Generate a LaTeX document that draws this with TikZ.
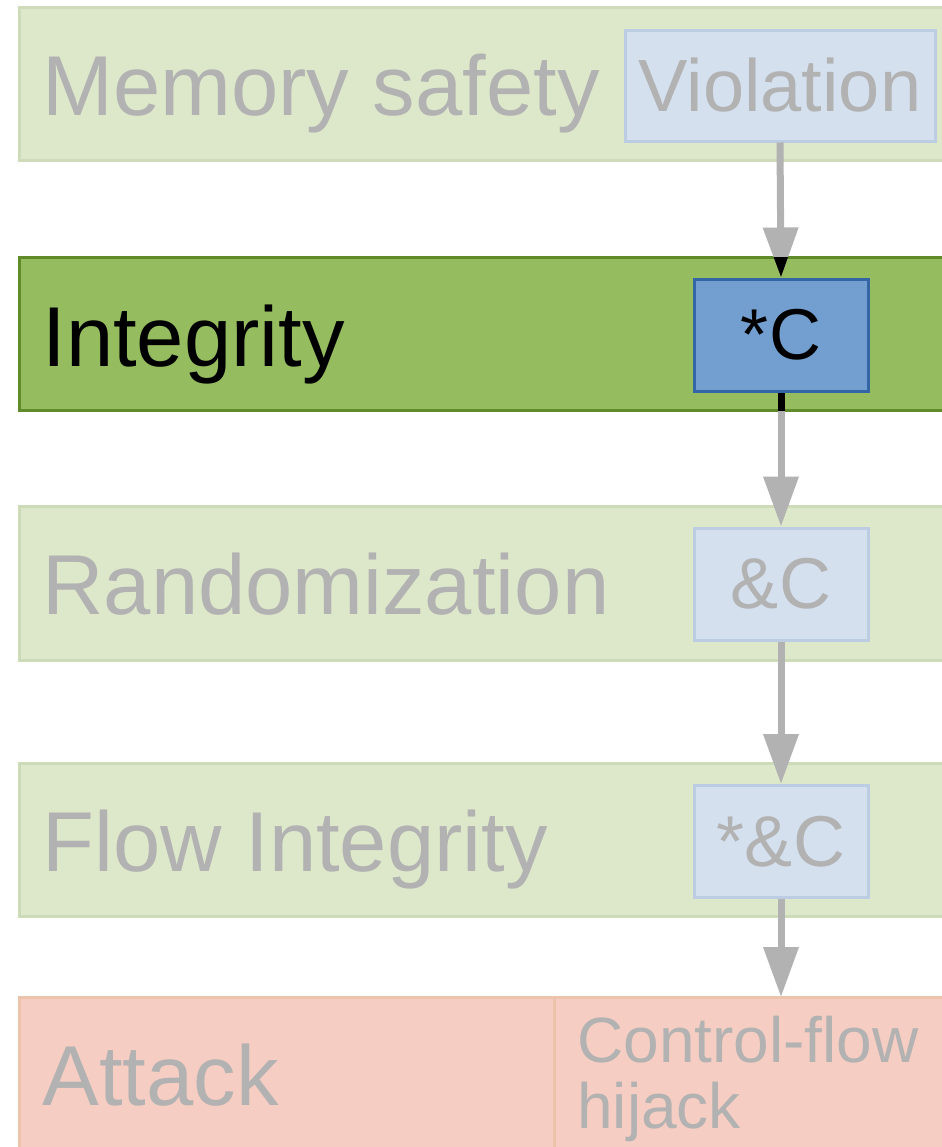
\documentclass[tikz,border=0pt]{standalone}
\usepackage{fontspec}
\setmainfont{Liberation Sans}
\usetikzlibrary{arrows.meta}
\definecolor{palegreen}{HTML}{DDE8CB}
\definecolor{palegreenline}{HTML}{CDDBB9}
\definecolor{midgreen}{HTML}{95BD5F}
\definecolor{darkgreen}{HTML}{5F8B2B}
\definecolor{paleblue}{HTML}{D4E0EE}
\definecolor{paleblueline}{HTML}{BCCCE3}
\definecolor{midblue}{HTML}{729FCF}
\definecolor{darkblue}{HTML}{3465A4}
\definecolor{palered}{HTML}{F5CDC2}
\definecolor{paleredline}{HTML}{ECC3AB}
\definecolor{fadegray}{HTML}{B2B2B2}
\tikzset{
  faintlayer/.style={draw=palegreenline, fill=palegreen, line width=1.5pt},
  activelayer/.style={draw=darkgreen, fill=midgreen, line width=1.5pt},
  attacklayer/.style={draw=paleredline, fill=palered, line width=1.5pt},
  layertext/.style={anchor=base west, inner sep=0pt, font=\fontsize{42.5}{51}\selectfont},
  faintbox/.style={draw=paleblueline, fill=paleblue, line width=1.5pt, text=fadegray,
    minimum width=87pt, minimum height=56pt, inner sep=0pt, font=\fontsize{36}{43}\selectfont},
  activebox/.style={faintbox, draw=darkblue, fill=midblue, text=black},
  flow/.style={draw=fadegray, line width=3.5pt, -{Triangle[length=25pt,width=17pt]}}
}
\begin{document}
\begin{tikzpicture}[x=0.5pt,y=-0.5pt]
\useasboundingbox (0,0) rectangle (942,1147);
\clip (0,0) rectangle (942,1147);
% layers
\draw [faintlayer] (19,7) rectangle (960,160);
\draw [activelayer] (19,257) rectangle (960,410);
\draw [faintlayer] (19,506) rectangle (960,660);
\draw [faintlayer] (19,763) rectangle (960,916);
\draw [attacklayer] (19,997) rectangle (960,1170);
\draw [attacklayer] (554,997) -- (554,1170);
\node [layertext, text=fadegray] (memsafe) at (42,115) {Memory safety};
\node [layertext] (integ) at (42,366) {Integrity};
\node [layertext, text=fadegray] (random) at (42,614) {Randomization};
\node [layertext, text=fadegray] (cfi) at (42,871) {Flow Integrity};
\node [layertext, text=fadegray] (attack) at (42,1105) {Attack};
% base of a two-line node is the last line
\node [anchor=base west, inner sep=0pt, align=left, text=fadegray,
  font=\fontsize{32}{33}\selectfont] (hijack) at (577,1128) {Control-flow\\hijack};
\coordinate (attacktop) at (781,997);
% boxes
\node [faintbox, minimum width=155pt, minimum height=55.5pt,
  font=\fontsize{37}{44}\selectfont] (viol) at (780,85.5) {Violation};
\node [activebox] (deref) at (781,335) {*C};
\node [faintbox] (addr) at (781,584) {\&C};
\node [faintbox] (daddr) at (781,841.5) {*\&C};
% arrows
\draw [flow] (viol.south) -- (deref.north);
\draw [flow] (deref.south) -- (addr.north);
\draw [flow] (addr.south) -- (daddr.north);
\draw [flow] (daddr.south) -- (attacktop);
% the active layer shows its part of the arrows in black
\begin{scope}
\clip (19,257) rectangle (960,410);
\draw [flow, draw=black] (viol.south) -- (deref.north);
\draw [flow, draw=black] (deref.south) -- (addr.north);
\end{scope}
\node [activebox] at (deref) {*C};
\end{tikzpicture}
\end{document}
